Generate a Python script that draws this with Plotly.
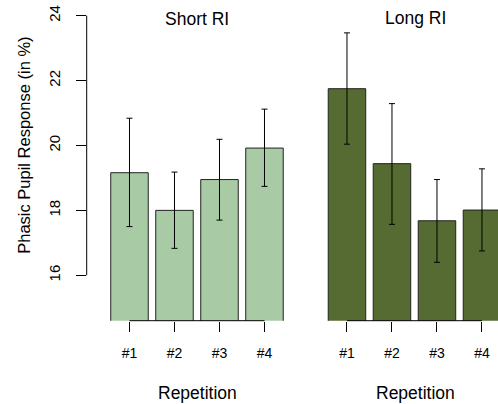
import plotly.graph_objects as go

# ---- data ----
repetitions = ["#1", "#2", "#3", "#4"]
short_ri_mean = [19.16, 18.00, 18.95, 19.92]
short_ri_upper = [20.84, 19.18, 20.19, 21.12]
short_ri_lower = [17.50, 16.83, 17.70, 18.74]
long_ri_mean = [21.75, 19.44, 17.68, 18.01]
long_ri_upper = [23.47, 21.29, 18.95, 19.28]
long_ri_lower = [20.04, 17.57, 16.40, 16.75]
y_ticks = [16, 18, 20, 22, 24]

LIGHT = "#a8cba6"
DARK = "#566b32"
FONT = "Liberation Sans, Arial, Helvetica, sans-serif"
W, H = 498, 404

pos = list(range(len(repetitions)))


def bar_trace(means, upper, lower, color, xa):
    return go.Bar(
        x=pos, y=means, xaxis=xa, yaxis="y",
        marker=dict(color=color, line=dict(color="#222222", width=1)),
        error_y=dict(type="data", symmetric=False,
                     array=[u - m for u, m in zip(upper, means)],
                     arrayminus=[m - l for m, l in zip(means, lower)],
                     color="black", thickness=1, width=3),
        showlegend=False, hoverinfo="skip",
    )


fig = go.Figure()
fig.add_trace(bar_trace(short_ri_mean, short_ri_upper, short_ri_lower, LIGHT, "x"))
fig.add_trace(bar_trace(long_ri_mean, long_ri_upper, long_ri_lower, DARK, "x2"))

px = lambda v: v / W
py = lambda v: 1 - v / H

xcommon = dict(
    tickmode="array", tickvals=pos, ticktext=repetitions,
    ticks="outside", ticklen=10, tickcolor="black", tickwidth=1,
    ticklabelstandoff=9,
    showline=False, showgrid=False, zeroline=False,
    tickfont=dict(family=FONT, size=14, color="black"),
    anchor="y", fixedrange=True,
)

fig.update_layout(
    width=W, height=H,
    margin=dict(l=0, r=0, t=0, b=0),
    paper_bgcolor="white", plot_bgcolor="white",
    bargap=1 - 1 / 1.2,
    xaxis=dict(domain=[px(86.7), px(306.7)], range=[-0.951, 3.938], **xcommon),
    xaxis2=dict(domain=[px(305), 1], range=[-0.933, 3.356], **xcommon),
    yaxis=dict(
        domain=[py(320.7), py(4.0)], range=[14.6, 24.36],
        tickmode="array", tickvals=y_ticks,
        ticks="outside", ticklen=10, tickcolor="black", tickwidth=1,
        ticklabelstandoff=10,
        tickangle=-90, showline=False, showgrid=False, zeroline=False,
        tickfont=dict(family=FONT, size=15, color="black"),
        anchor="x", fixedrange=True,
    ),
)

# axis lines (R style, spanning only from first to last tick)
line = dict(color="black", width=1)
fig.add_shape(type="line", xref="x domain", yref="y", x0=0, x1=0,
              y0=min(y_ticks), y1=max(y_ticks), line=line)
fig.add_shape(type="line", xref="x", yref="y domain", x0=pos[0], x1=pos[-1],
              y0=0, y1=0, line=line)
fig.add_shape(type="line", xref="x2", yref="y domain", x0=pos[0], x1=pos[-1],
              y0=0, y1=0, line=line)

title_font = dict(family=FONT, size=17.5, color="black")
ylab_font = dict(family=FONT, size=16.5, color="black")
annotations = [
    dict(text="Short RI", x=px(196.7), y=py(18.5), font=title_font),
    dict(text="Long RI", x=px(415), y=py(17.5), font=title_font),
    dict(text="Repetition", x=px(197.5), y=py(392.7), font=title_font),
    dict(text="Repetition", x=px(415), y=py(392.7), font=title_font),
    dict(text="Phasic Pupil Response (in %)", x=px(24), y=py(145.8),
         textangle=-90, font=ylab_font),
]
for a in annotations:
    fig.add_annotation(xref="paper", yref="paper", showarrow=False,
                       xanchor="center", yanchor="middle", **a)

fig.write_html(
    "out.html",
    config={"displayModeBar": False, "staticPlot": True},
    post_script="document.body.style.margin='0';document.body.style.overflow='hidden';",
)
